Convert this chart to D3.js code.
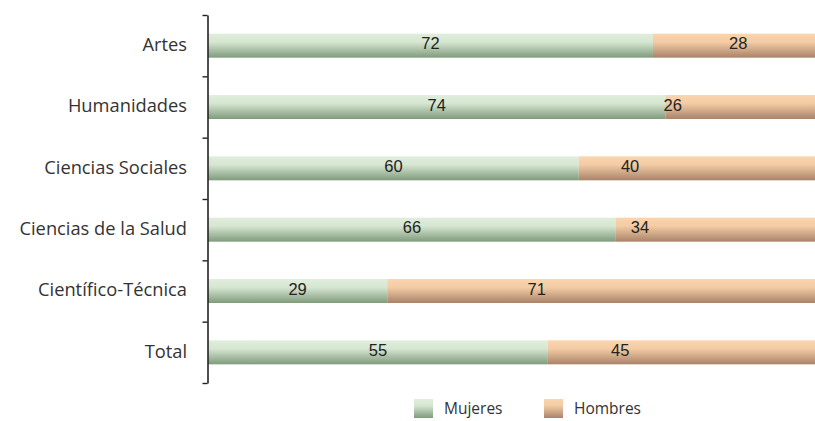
<!DOCTYPE html>
<html>
<head>
<meta charset="utf-8">
<script src="https://cdn.jsdelivr.net/npm/d3@7"></script>
<style>
  body { margin: 0; background: #fff; }
  svg { display: block; }
</style>
</head>
<body>
<svg width="815" height="421"></svg>
<script>
var categories = ["Artes", "Humanidades", "Ciencias Sociales", "Ciencias de la Salud", "Científico-Técnica", "Total"]
var mujeres = [72, 74, 60, 66, 29, 55]
var hombres = [28, 26, 40, 34, 71, 45]
// where the hombres labels sit in the original (in % units, not centred)
var hombresLabelAt = [85.8, 75.2, 68.3, 69.9, 53.2, 66.7]
var seriesNames = ["Mujeres", "Hombres"]

var svg = d3.select("svg")
var width = 815, height = 421

var x = d3.scaleLinear().domain([0, 100]).range([208, 826])
var y = d3.scaleBand().domain(categories).range([15, 383])
var barH = 24

var defs = svg.append("defs")
function grad(id, top, mid, bottom) {
	var g = defs.append("linearGradient").attr("id", id)
		.attr("x1", 0).attr("y1", 0).attr("x2", 0).attr("y2", 1)
	g.append("stop").attr("offset", "0%").attr("stop-color", top)
	g.append("stop").attr("offset", "35%").attr("stop-color", mid)
	g.append("stop").attr("offset", "100%").attr("stop-color", bottom)
}
grad("gM", "#e0eedc", "#d6e6d1", "#7f9b7c")
grad("gH", "#fad5ae", "#f3cba4", "#a9836a")

var rows = svg.append("g").selectAll("g")
	.data(categories)
	.enter().append("g")
	.attr("transform", function (d) { return "translate(0," + (y(d) + (y.bandwidth() - barH) / 2) + ")" })

rows.append("rect")
	.attr("x", x(0))
	.attr("width", function (d, i) { return x(mujeres[i]) - x(0) })
	.attr("height", barH)
	.attr("fill", "url(#gM)")

rows.append("rect")
	.attr("x", function (d, i) { return x(mujeres[i]) })
	.attr("width", function (d, i) { return x(mujeres[i] + hombres[i]) - x(mujeres[i]) })
	.attr("height", barH)
	.attr("fill", "url(#gH)")

rows.append("text")
	.attr("x", function (d, i) { return x(mujeres[i] / 2) })
	.attr("y", barH / 2 - 2)
	.attr("dy", "0.35em")
	.attr("text-anchor", "middle")
	.attr("font-family", "Liberation Sans, Arial, sans-serif")
	.attr("font-size", 16.5)
	.attr("fill", "#222")
	.text(function (d, i) { return mujeres[i] })

rows.append("text")
	.attr("x", function (d, i) { return x(hombresLabelAt[i]) })
	.attr("y", barH / 2 - 2)
	.attr("dy", "0.35em")
	.attr("text-anchor", "middle")
	.attr("font-family", "Liberation Sans, Arial, sans-serif")
	.attr("font-size", 16.5)
	.attr("fill", "#222")
	.text(function (d, i) { return hombres[i] })

// vertical axis with ticks on the band boundaries
var yb = d3.scaleLinear().domain([0, categories.length]).range([15, 383])
svg.append("g")
	.attr("transform", "translate(207.5,0)")
	.call(d3.axisLeft(yb).ticks(categories.length).tickSize(5).tickSizeOuter(0).tickFormat(""))
	.call(function (g) {
		g.select(".domain").attr("stroke", "#222").attr("stroke-width", 1.6)
		g.selectAll(".tick line").attr("stroke", "#222").attr("stroke-width", 1.4)
	})

svg.append("g").selectAll("text")
	.data(categories)
	.enter().append("text")
	.attr("x", 187)
	.attr("y", function (d) { return y(d) + y.bandwidth() / 2 - 1 })
	.attr("dy", "0.35em")
	.attr("text-anchor", "end")
	.attr("font-family", "Open Sans, sans-serif")
	.attr("font-size", 18.3)
	.attr("fill", "#333")
	.text(function (d) { return d })

// legend
var legend = svg.append("g").selectAll("g")
	.data(seriesNames)
	.enter().append("g")
	.attr("transform", function (d, i) { return "translate(" + (414 + i * 130) + ",399)" })

legend.append("rect")
	.attr("width", 19).attr("height", 19)
	.attr("fill", function (d, i) { return i == 0 ? "url(#gM)" : "url(#gH)" })

legend.append("text")
	.attr("x", 30).attr("y", 10)
	.attr("dy", "0.35em")
	.attr("font-family", "Open Sans, sans-serif")
	.attr("font-size", 15.5)
	.attr("fill", "#333")
	.text(function (d) { return d })
</script>
</body>
</html>
